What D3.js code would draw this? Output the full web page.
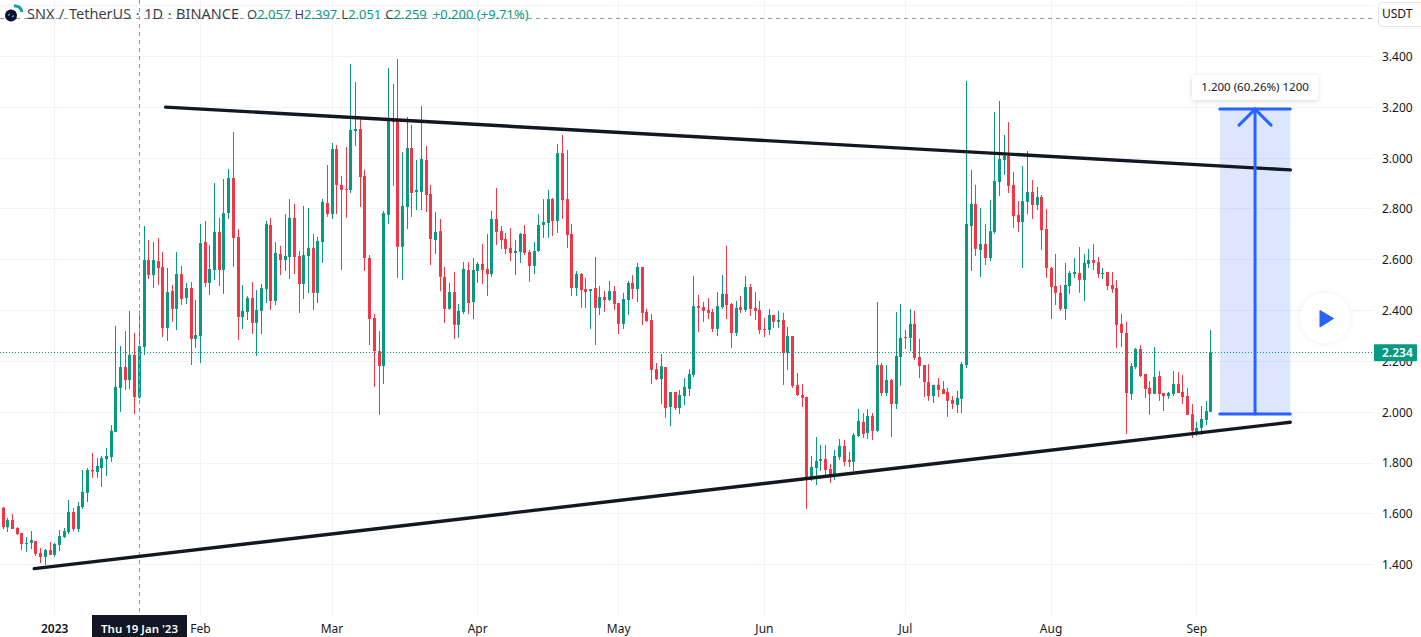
<!DOCTYPE html>
<html lang="en">
<head>
<meta charset="UTF-8" />
<title>SNX / TetherUS 1D</title>
<script src="https://d3js.org/d3.v7.min.js"></script>
<style>
  html, body { margin: 0; padding: 0; background: #fff; overflow: hidden; }
  svg { display: block; font-family: "Noto Sans", Roboto, sans-serif; }
  .axis path, .axis line { display: none; }
  .axis text { fill: #131722; font-size: 12px; font-family: "Noto Sans", Roboto, sans-serif; }
</style>
</head>
<body>
<svg id="chart"></svg>
<script>
const WIDTH = 1421;
const HEIGHT = 637;

// first candle is 21 Dec 2022, one candle per day
const firstDay = "2022-12-21";
const opens = [1.623,1.546,1.574,1.543,1.523,1.480,1.484,1.492,1.445,1.429,1.456,1.437,1.476,1.507,1.527,1.606,1.539,1.625,1.681,1.771,1.763,1.779,1.814,1.822,1.921,2.094,2.176,2.125,2.224,2.057,
  2.255,2.597,2.538,2.593,2.570,2.330,2.475,2.405,2.542,2.448,2.487,2.287,2.298,2.668,2.507,2.558,2.708,2.558,2.782,2.920,2.688,2.373,2.393,2.448,2.350,2.397,2.483,2.735,2.436,2.621,
  2.597,2.609,2.763,2.613,2.503,2.613,2.645,2.468,2.668,2.822,2.778,3.034,2.893,2.877,2.873,3.105,3.113,2.928,2.605,2.369,2.239,2.180,2.775,3.152,3.144,2.649,2.806,3.038,2.865,2.865,
  2.991,2.857,2.676,2.711,2.531,2.405,2.471,2.342,2.393,2.558,2.432,2.554,2.582,2.562,2.542,2.759,2.711,2.680,2.645,2.625,2.629,2.700,2.629,2.574,2.633,2.735,2.743,2.837,2.751,3.018,
  2.837,2.700,2.487,2.542,2.483,2.475,2.487,2.409,2.452,2.440,2.475,2.428,2.346,2.440,2.507,2.483,2.570,2.393,2.361,2.168,2.129,2.176,2.019,2.078,2.015,2.062,2.090,2.145,2.416,2.412,
  2.401,2.393,2.326,2.412,2.464,2.424,2.310,2.412,2.401,2.491,2.409,2.401,2.326,2.322,2.381,2.354,2.361,2.231,2.298,2.106,2.066,2.058,1.740,1.779,1.807,1.814,1.775,1.748,1.822,1.866,
  1.811,1.803,1.905,1.960,1.917,1.984,1.925,2.184,2.074,2.125,2.031,2.216,2.294,2.291,2.346,2.216,2.184,2.117,2.062,2.106,2.090,2.078,2.047,2.027,2.051,2.184,2.731,2.818,2.637,2.660,
  2.605,2.708,2.904,2.991,3.007,2.893,2.775,2.747,2.826,2.865,2.814,2.845,2.719,2.566,2.495,2.468,2.405,2.495,2.542,2.546,2.519,2.582,2.597,2.589,2.542,2.550,2.499,2.487,2.346,2.310,
  2.070,2.176,2.247,2.149,2.094,2.070,2.141,2.074,2.062,2.070,2.109,2.078,2.062,1.991,1.917,1.937,1.968,2.000];
const highs = [1.625,1.582,1.598,1.546,1.523,1.507,1.531,1.492,1.464,1.460,1.488,1.484,1.535,1.543,1.653,1.622,1.645,1.771,1.779,1.838,1.818,1.826,1.858,1.948,2.338,2.259,2.318,2.397,2.310,2.397,
  2.731,2.676,2.668,2.684,2.629,2.566,2.499,2.629,2.574,2.507,2.511,2.440,2.739,2.751,2.656,2.900,2.763,2.916,2.956,3.101,2.719,2.499,2.456,2.511,2.479,2.503,2.751,2.763,2.668,2.653,
  2.778,2.837,2.818,2.633,2.810,2.802,2.700,2.688,2.837,2.971,3.058,3.050,2.928,3.042,3.369,3.298,3.156,2.952,2.617,2.385,2.318,2.790,3.353,3.290,3.388,3.022,3.160,3.129,2.991,3.203,
  3.046,2.893,2.786,2.759,2.570,2.507,2.550,2.424,2.589,2.589,2.605,2.589,2.660,2.700,2.790,2.881,2.731,2.704,2.723,2.676,2.704,2.735,2.637,2.668,2.778,2.837,2.873,2.841,3.054,3.089,
  3.030,2.739,2.554,2.546,2.527,2.483,2.609,2.495,2.475,2.515,2.495,2.428,2.468,2.515,2.538,2.586,2.570,2.405,2.385,2.192,2.228,2.176,2.078,2.078,2.086,2.133,2.168,2.535,2.460,2.432,
  2.448,2.405,2.471,2.538,2.653,2.428,2.436,2.456,2.535,2.503,2.471,2.436,2.369,2.405,2.381,2.397,2.389,2.334,2.298,2.153,2.109,2.058,1.826,1.901,1.870,1.870,1.795,1.850,1.893,1.889,
  1.842,1.917,2.011,1.995,2.011,1.995,2.432,2.192,2.184,2.129,2.393,2.424,2.322,2.405,2.397,2.287,2.184,2.188,2.106,2.133,2.121,2.094,2.062,2.082,2.196,3.302,2.952,2.893,2.802,2.739,
  2.833,3.180,3.223,3.089,3.140,2.944,2.829,2.967,3.026,2.912,2.885,2.853,2.798,2.570,2.621,2.499,2.586,2.554,2.605,2.649,2.621,2.641,2.660,2.609,2.566,2.550,2.550,2.519,2.385,2.354,
  2.192,2.251,2.263,2.149,2.121,2.255,2.160,2.074,2.078,2.160,2.156,2.145,2.094,2.031,1.960,2.023,2.043,2.322];
const lows = [1.538,1.527,1.539,1.515,1.456,1.448,1.460,1.433,1.405,1.397,1.437,1.429,1.452,1.504,1.519,1.531,1.527,1.618,1.645,1.740,1.740,1.704,1.747,1.803,1.921,2.000,2.086,2.090,1.991,2.051,
  2.224,2.523,2.487,2.499,2.294,2.279,2.354,2.322,2.420,2.424,2.184,2.251,2.192,2.491,2.460,2.519,2.495,2.464,2.759,2.570,2.283,2.326,2.361,2.306,2.220,2.306,2.428,2.401,2.420,2.538,
  2.554,2.523,2.542,2.389,2.444,2.468,2.401,2.428,2.586,2.767,2.759,2.778,2.558,2.763,2.861,3.046,2.806,2.554,2.263,2.098,1.988,2.109,2.739,2.889,2.527,2.519,2.719,2.767,2.794,2.794,
  2.786,2.578,2.621,2.475,2.350,2.401,2.287,2.291,2.385,2.385,2.365,2.507,2.503,2.456,2.531,2.656,2.641,2.621,2.593,2.538,2.586,2.617,2.511,2.542,2.629,2.684,2.684,2.692,2.704,2.759,
  2.645,2.456,2.456,2.409,2.409,2.326,2.263,2.381,2.393,2.436,2.401,2.306,2.326,2.381,2.444,2.432,2.342,2.354,2.109,2.125,2.031,1.976,1.944,2.007,1.991,2.027,2.062,2.137,2.314,2.354,
  2.365,2.314,2.298,2.405,2.365,2.251,2.298,2.389,2.393,2.377,2.361,2.306,2.294,2.302,2.330,2.330,2.106,2.165,2.094,2.062,2.019,1.618,1.728,1.712,1.767,1.751,1.720,1.732,1.811,1.787,
  1.783,1.767,1.901,1.897,1.893,1.889,1.921,2.062,2.062,1.901,2.011,2.102,2.247,2.239,2.204,2.133,2.058,2.043,2.035,2.058,2.070,1.980,2.011,1.995,1.995,2.172,2.554,2.613,2.531,2.578,
  2.593,2.700,2.849,2.932,2.861,2.723,2.708,2.566,2.778,2.759,2.794,2.637,2.527,2.365,2.420,2.397,2.361,2.464,2.527,2.468,2.436,2.566,2.558,2.527,2.523,2.479,2.468,2.251,2.255,1.913,
  2.047,2.168,2.137,2.055,1.988,2.070,2.043,2.003,2.051,2.062,2.074,2.031,1.988,1.897,1.905,1.909,1.948,2.000];
const closes = [1.546,1.574,1.539,1.519,1.480,1.484,1.496,1.441,1.429,1.456,1.437,1.480,1.511,1.531,1.606,1.539,1.629,1.685,1.771,1.765,1.787,1.818,1.826,1.925,2.098,2.176,2.125,2.224,2.058,2.259,
  2.597,2.538,2.597,2.566,2.330,2.471,2.405,2.542,2.444,2.487,2.287,2.302,2.664,2.507,2.562,2.708,2.558,2.782,2.920,2.684,2.373,2.397,2.448,2.350,2.401,2.487,2.739,2.436,2.625,2.597,
  2.613,2.763,2.609,2.503,2.617,2.645,2.468,2.672,2.826,2.778,3.034,2.893,2.873,2.873,3.109,3.113,2.924,2.605,2.365,2.239,2.180,2.782,3.152,3.140,2.649,2.810,3.038,2.861,2.873,2.995,
  2.853,2.680,2.708,2.531,2.405,2.471,2.342,2.397,2.562,2.428,2.558,2.582,2.558,2.542,2.759,2.708,2.676,2.641,2.625,2.633,2.700,2.625,2.574,2.633,2.735,2.747,2.837,2.751,3.018,2.833,
  2.696,2.487,2.542,2.479,2.471,2.483,2.409,2.452,2.440,2.475,2.424,2.346,2.444,2.507,2.483,2.570,2.389,2.357,2.165,2.129,2.180,2.015,2.078,2.015,2.066,2.098,2.149,2.416,2.409,2.397,
  2.389,2.326,2.416,2.464,2.420,2.310,2.409,2.401,2.491,2.405,2.397,2.322,2.322,2.381,2.354,2.361,2.231,2.298,2.102,2.066,2.055,1.740,1.783,1.807,1.814,1.771,1.751,1.826,1.866,1.803,
  1.803,1.909,1.964,1.913,1.984,1.925,2.184,2.074,2.125,2.031,2.220,2.291,2.291,2.346,2.212,2.180,2.117,2.062,2.106,2.086,2.070,2.043,2.031,2.055,2.188,2.739,2.818,2.641,2.660,2.605,
  2.711,2.908,2.995,3.007,2.889,2.770,2.747,2.829,2.865,2.814,2.845,2.715,2.566,2.491,2.468,2.405,2.499,2.546,2.550,2.519,2.586,2.597,2.586,2.542,2.546,2.495,2.483,2.342,2.310,2.074,
  2.180,2.247,2.141,2.090,2.070,2.137,2.070,2.062,2.074,2.109,2.074,2.058,1.988,1.925,1.937,1.972,2.003,2.234];

const priceTicks = [3.6, 3.4, 3.2, 3.0, 2.8, 2.6, 2.4, 2.2, 2.0, 1.8, 1.6, 1.4];
const timeTicks = ["2023-01-01", "2023-02-01", "2023-03-01", "2023-04-01", "2023-05-01", "2023-06-01", "2023-07-01", "2023-08-01", "2023-09-01"];
const timeLabels = ["2023", "Feb", "Mar", "Apr", "May", "Jun", "Jul", "Aug", "Sep"];

const lastPrice = 2.234;
const crossDate = "2023-01-19";
const crossLabel = "Thu 19 Jan '23";

// drawings placed on the chart: [date, price]
const upperLine = [["2023-01-24T17:00Z", 3.199], ["2023-09-21T00:00Z", 2.952]];
const lowerLine = [["2022-12-27T18:00Z", 1.383], ["2023-09-21T00:00Z", 1.959]];
const measureDates = ["2023-09-06T00:00Z", "2023-09-21T00:00Z"];
const measurePrices = [1.991, 3.191];
const measureLabel = "1.200 (60.26%) 1200";

const legendTitle = "SNX / TetherUS · 1D · BINANCE";
const legendValues = [["O", "2.057"], ["H", "2.397"], ["L", "2.051"], ["C", "2.259"]];
const legendChange = "+0.200 (+9.71%)";

const UP = "#089981";
const DOWN = "#F23645";
const GRID = "#f0f3fa";
const BLUE = "#2962FF";
const INK = "#131722";
const PANE_RIGHT = 1374;
const PANE_BOTTOM = 615;

const svg = d3.select("#chart").attr("width", WIDTH).attr("height", HEIGHT);

const day = (s) => new Date(s.length === 10 ? s + "T00:00Z" : s);

const x = d3.scaleUtc()
  .domain([day("2023-01-01"), day("2023-09-04")])
  .range([54.2, 1210.4]);

const y = d3.scaleLinear().domain([1.4, 3.4]).range([564.3, 56]);

const candles = opens.map((o, i) => ({
  date: d3.utcDay.offset(day(firstDay), i),
  open: o, high: highs[i], low: lows[i], close: closes[i],
}));

// grid
const grid = svg.append("g").attr("stroke", GRID).attr("stroke-width", 1);
grid.selectAll(".h").data(priceTicks).enter().append("line")
  .attr("x1", 0).attr("x2", PANE_RIGHT)
  .attr("y1", (d) => Math.round(y(d)) + 0.5).attr("y2", (d) => Math.round(y(d)) + 0.5);
grid.selectAll(".v").data(timeTicks).enter().append("line")
  .attr("y1", 0).attr("y2", PANE_BOTTOM)
  .attr("x1", (d) => Math.round(x(day(d))) + 0.5).attr("x2", (d) => Math.round(x(day(d))) + 0.5);

// measure box goes under the candles and lines
const mx0 = x(day(measureDates[0]));
const mx1 = x(day(measureDates[1]));
const mxc = (mx0 + mx1) / 2;
svg.append("rect")
  .attr("x", mx0).attr("width", mx1 - mx0)
  .attr("y", y(measurePrices[1])).attr("height", y(measurePrices[0]) - y(measurePrices[1]))
  .attr("fill", BLUE).attr("fill-opacity", 0.16);

// candles
const bars = svg.append("g").selectAll("g").data(candles).enter().append("g")
  .attr("fill", (d) => (d.close >= d.open ? UP : DOWN));
bars.append("rect")
  .attr("x", (d) => Math.round(x(d.date)))
  .attr("width", 1)
  .attr("y", (d) => y(d.high))
  .attr("height", (d) => y(d.low) - y(d.high));
bars.append("rect")
  .attr("x", (d) => Math.round(x(d.date)) - 1)
  .attr("width", 3)
  .attr("y", (d) => y(Math.max(d.open, d.close)))
  .attr("height", (d) => Math.max(1, Math.abs(y(d.open) - y(d.close))));

// last price line
svg.append("line")
  .attr("x1", 0).attr("x2", PANE_RIGHT)
  .attr("y1", Math.round(y(lastPrice)) + 0.5).attr("y2", Math.round(y(lastPrice)) + 0.5)
  .attr("stroke", UP).attr("stroke-width", 1).attr("stroke-dasharray", "1 2");

// crosshair
const crossX = Math.round(x(day(crossDate))) + 0.5;
const crosshair = svg.append("g").attr("stroke", "#9598a1").attr("stroke-width", 1).attr("stroke-dasharray", "4 4");
crosshair.append("line").attr("x1", crossX).attr("x2", crossX).attr("y1", 0).attr("y2", PANE_BOTTOM);
crosshair.append("line").attr("x1", 0).attr("x2", PANE_RIGHT).attr("y1", 18.5).attr("y2", 18.5);

// trend lines
const trend = d3.line().x((d) => x(day(d[0]))).y((d) => y(d[1]));
[upperLine, lowerLine].forEach((pts) => {
  svg.append("path").attr("d", trend(pts)).attr("fill", "none")
    .attr("stroke", INK).attr("stroke-width", 3.4).attr("stroke-linecap", "round");
});

// measure arrow
const m = svg.append("g").attr("stroke", BLUE).attr("fill", "none").attr("stroke-linecap", "round");
const topY = y(measurePrices[1]);
const botY = y(measurePrices[0]);
m.append("line").attr("x1", mx0).attr("x2", mx1).attr("y1", topY).attr("y2", topY).attr("stroke-width", 3);
m.append("line").attr("x1", mx0).attr("x2", mx1).attr("y1", botY).attr("y2", botY).attr("stroke-width", 3);
m.append("line").attr("x1", mxc).attr("x2", mxc).attr("y1", topY).attr("y2", botY).attr("stroke-width", 3);
m.append("path").attr("stroke-width", 3)
  .attr("d", `M${mxc - 16},${topY + 16}L${mxc},${topY}L${mxc + 16},${topY + 16}`);

// shadows for tooltip and play button
const defs = svg.append("defs");
const soft = defs.append("filter").attr("id", "soft")
  .attr("x", "-30%").attr("y", "-50%").attr("width", "160%").attr("height", "200%");
soft.append("feDropShadow").attr("dx", 0).attr("dy", 1).attr("stdDeviation", 2.5)
  .attr("flood-color", "#000").attr("flood-opacity", 0.16);
const softer = defs.append("filter").attr("id", "softer")
  .attr("x", "-30%").attr("y", "-30%").attr("width", "160%").attr("height", "160%");
softer.append("feDropShadow").attr("dx", 0).attr("dy", 0).attr("stdDeviation", 3)
  .attr("flood-color", "#000").attr("flood-opacity", 0.08);

svg.append("rect")
  .attr("x", mxc - 63).attr("y", 75).attr("width", 126).attr("height", 25).attr("rx", 4)
  .attr("fill", "#fff").attr("filter", "url(#soft)");
svg.append("text")
  .attr("x", mxc).attr("y", 91).attr("text-anchor", "middle")
  .attr("font-size", 11.5).attr("fill", INK).text(measureLabel);

// play button
svg.append("circle").attr("cx", 1325).attr("cy", 318).attr("r", 25)
  .attr("fill", "#fff").attr("filter", "url(#softer)");
svg.append("path").attr("d", "M1320,310.5L1333.5,318.5L1320,327Z").attr("fill", BLUE)
  .attr("stroke", BLUE).attr("stroke-width", 1).attr("stroke-linejoin", "round");

// price axis
const yAxis = d3.axisRight(y)
  .tickValues(priceTicks.slice(1))
  .tickSize(0)
  .tickPadding(0)
  .tickFormat(d3.format(".3f"));
const yg = svg.append("g").attr("class", "axis").attr("transform", `translate(${1382},0.5)`).call(yAxis);

// last price tag
svg.append("rect")
  .attr("x", PANE_RIGHT).attr("y", y(lastPrice) - 8).attr("width", 43).attr("height", 17)
  .attr("fill", UP).attr("rx", 1);
svg.append("text")
  .attr("x", 1382).attr("y", y(lastPrice) + 4.5)
  .attr("font-size", 12).attr("font-weight", 600).attr("fill", "#fff")
  .text(lastPrice.toFixed(3));

// USDT box
svg.append("rect")
  .attr("x", 1378.5).attr("y", 2.5).attr("width", 50).attr("height", 24).attr("rx", 4)
  .attr("fill", "#fff").attr("stroke", "#e0e3eb");
svg.append("text").attr("x", 1382).attr("y", 18).attr("font-size", 12).attr("fill", INK).text("USDT");

// time axis
const xAxis = d3.axisBottom(x)
  .tickValues(timeTicks.map(day))
  .tickSize(0)
  .tickPadding(0)
  .tickFormat((d, i) => timeLabels[i]);
const xg = svg.append("g").attr("class", "axis").attr("transform", `translate(0,${624})`).call(xAxis);
xg.selectAll("text").filter((d, i) => i === 0).attr("font-weight", 600);

// crosshair date tag
svg.append("rect").attr("x", crossX - 47.5).attr("y", PANE_BOTTOM).attr("width", 95).attr("height", 22).attr("fill", INK);
svg.append("text")
  .attr("x", crossX).attr("y", 633).attr("text-anchor", "middle")
  .attr("font-size", 11.5).attr("font-weight", 600).attr("fill", "#fff").text(crossLabel);

// legend
const logo = svg.append("g");
logo.append("path").attr("d", "M14,6A7,7 0 0 1 22,12").attr("fill", "none").attr("stroke", "#0aa39a").attr("stroke-width", 3);
logo.append("circle").attr("cx", 11).attr("cy", 15.5).attr("r", 6).attr("fill", "#0a0b2e");
logo.append("path").attr("d", "M8,15.5L10,14M14,15.5L12,17").attr("stroke", "#1fd0e8").attr("stroke-width", 1.2);

svg.append("text")
  .attr("x", 27).attr("y", 18.5).attr("font-size", 14.5).attr("fill", INK).attr("fill-opacity", 0.85)
  .attr("word-spacing", 0.8)
  .text(legendTitle);

const legendRow = svg.append("text").attr("x", 247).attr("y", 18.5).attr("font-size", 13).attr("fill", UP);
legendValues.forEach((v, i) => {
  legendRow.append("tspan").attr("dx", i ? 4 : 0).attr("fill", INK).attr("fill-opacity", 0.85).text(v[0]);
  legendRow.append("tspan").text(v[1]);
});
legendRow.append("tspan").attr("dx", 6).text(legendChange);
</script>
</body>
</html>
